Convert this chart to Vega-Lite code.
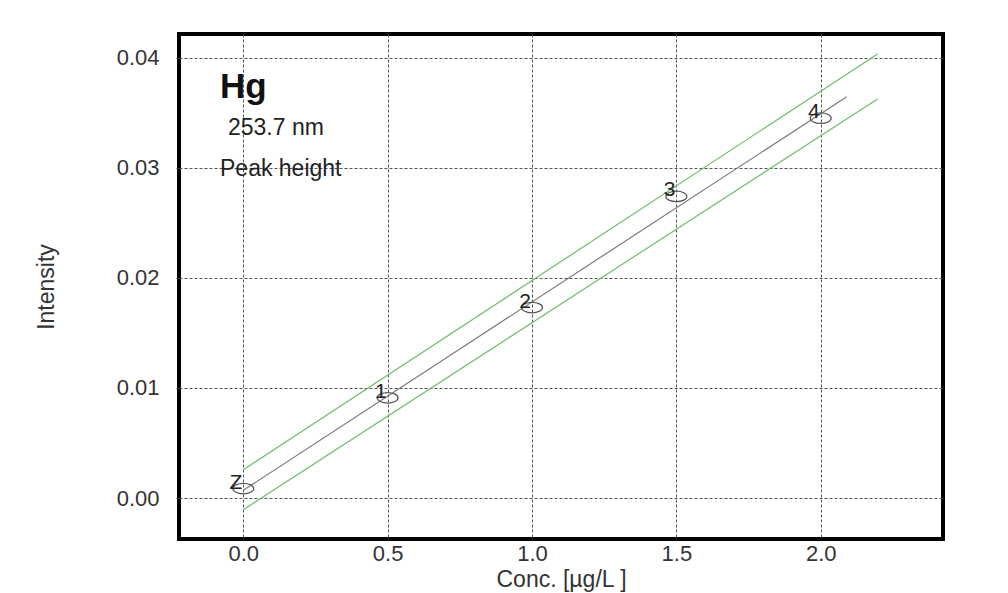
{
  "$schema": "https://vega.github.io/schema/vega-lite/v6.json",
  "width": 764,
  "height": 505,
  "autosize": "none",
  "padding": {"left": 179, "top": 34, "right": 65, "bottom": 54},
  "background": "white",
  "config": {
    "view": {"stroke": "black", "strokeWidth": 4},
    "font": "Liberation Sans",
    "axis": {
      "labelFont": "Liberation Sans",
      "titleFont": "Liberation Sans",
      "labelColor": "#333",
      "titleColor": "#333",
      "labelFontSize": 22,
      "titleFontSize": 23,
      "titleFontWeight": "normal",
      "domain": false,
      "grid": true,
      "gridColor": "#555",
      "gridDash": [3, 2],
      "gridWidth": 1,
      "gridOpacity": 1
    }
  },
  "datasets": {
    "points": [
      {"conc": 0.0, "intensity": 0.00086, "label": "Z"},
      {"conc": 0.5, "intensity": 0.0091, "label": "1"},
      {"conc": 1.0, "intensity": 0.0173, "label": "2"},
      {"conc": 1.5, "intensity": 0.0274, "label": "3"},
      {"conc": 2.0, "intensity": 0.0345, "label": "4"}
    ],
    "lines": [
      {"series": "fit", "conc": 0.0, "intensity": 0.0007},
      {"series": "fit", "conc": 2.09, "intensity": 0.03646},
      {"series": "upper", "conc": 0.0, "intensity": 0.00257},
      {"series": "upper", "conc": 2.197, "intensity": 0.04034},
      {"series": "lower", "conc": 0.0, "intensity": -0.00106},
      {"series": "lower", "conc": 2.197, "intensity": 0.03625}
    ],
    "notes": [
      {"note": "Hg"}
    ]
  },
  "layer": [
    {
      "data": {"name": "lines"},
      "mark": {"type": "line", "strokeWidth": 1.2, "clip": true},
      "encoding": {
        "x": {
          "field": "conc", "type": "quantitative",
          "scale": {"domain": [-0.2227, 2.4235], "nice": false, "zero": false},
          "axis": {"values": [0, 0.5, 1, 1.5, 2], "format": ".1f", "title": "Conc. [µg/L ]", "ticks": false, "labelPadding": 4, "titlePadding": 4}
        },
        "y": {
          "field": "intensity", "type": "quantitative",
          "scale": {"domain": [-0.00372, 0.04215], "nice": false, "zero": false},
          "axis": {"values": [0, 0.01, 0.02, 0.03, 0.04], "format": ".2f", "title": "Intensity", "tickSize": 3, "tickColor": "#333", "labelPadding": 17, "titlePadding": 58}
        },
        "detail": {"field": "series"},
        "color": {
          "field": "series", "type": "nominal",
          "scale": {"domain": ["fit", "upper", "lower"], "range": ["#7a7a7a", "#6cbf6a", "#6cbf6a"]},
          "legend": null
        }
      }
    },
    {
      "data": {"name": "points"},
      "mark": {
        "type": "point",
        "shape": "M -1 0 A 1 0.5 0 1 1 1 0 A 1 0.5 0 1 1 -1 0 Z",
        "size": 441,
        "filled": false,
        "stroke": "#555",
        "strokeWidth": 1.2,
        "opacity": 1
      },
      "encoding": {
        "x": {"field": "conc", "type": "quantitative"},
        "y": {"field": "intensity", "type": "quantitative"}
      }
    },
    {
      "data": {"name": "points"},
      "mark": {"type": "text", "align": "right", "baseline": "alphabetic", "dx": -1, "dy": 0, "fontSize": 21, "color": "#222"},
      "encoding": {
        "x": {"field": "conc", "type": "quantitative"},
        "y": {"field": "intensity", "type": "quantitative"},
        "text": {"field": "label"}
      }
    },
    {
      "data": {"name": "notes"},
      "mark": {"type": "text", "text": "Hg", "align": "left", "baseline": "alphabetic", "fontSize": 35, "fontWeight": "bold", "color": "#111"},
      "encoding": {
        "x": {"datum": -0.0807, "type": "quantitative"},
        "y": {"datum": 0.03634, "type": "quantitative"}
      }
    },
    {
      "data": {"name": "notes"},
      "mark": {"type": "text", "text": "253.7 nm", "align": "left", "baseline": "alphabetic", "fontSize": 23, "color": "#222"},
      "encoding": {
        "x": {"datum": -0.053, "type": "quantitative"},
        "y": {"datum": 0.03298, "type": "quantitative"}
      }
    },
    {
      "data": {"name": "notes"},
      "mark": {"type": "text", "text": "Peak height", "align": "left", "baseline": "alphabetic", "fontSize": 23, "color": "#222"},
      "encoding": {
        "x": {"datum": -0.0807, "type": "quantitative"},
        "y": {"datum": 0.02926, "type": "quantitative"}
      }
    }
  ]
}
